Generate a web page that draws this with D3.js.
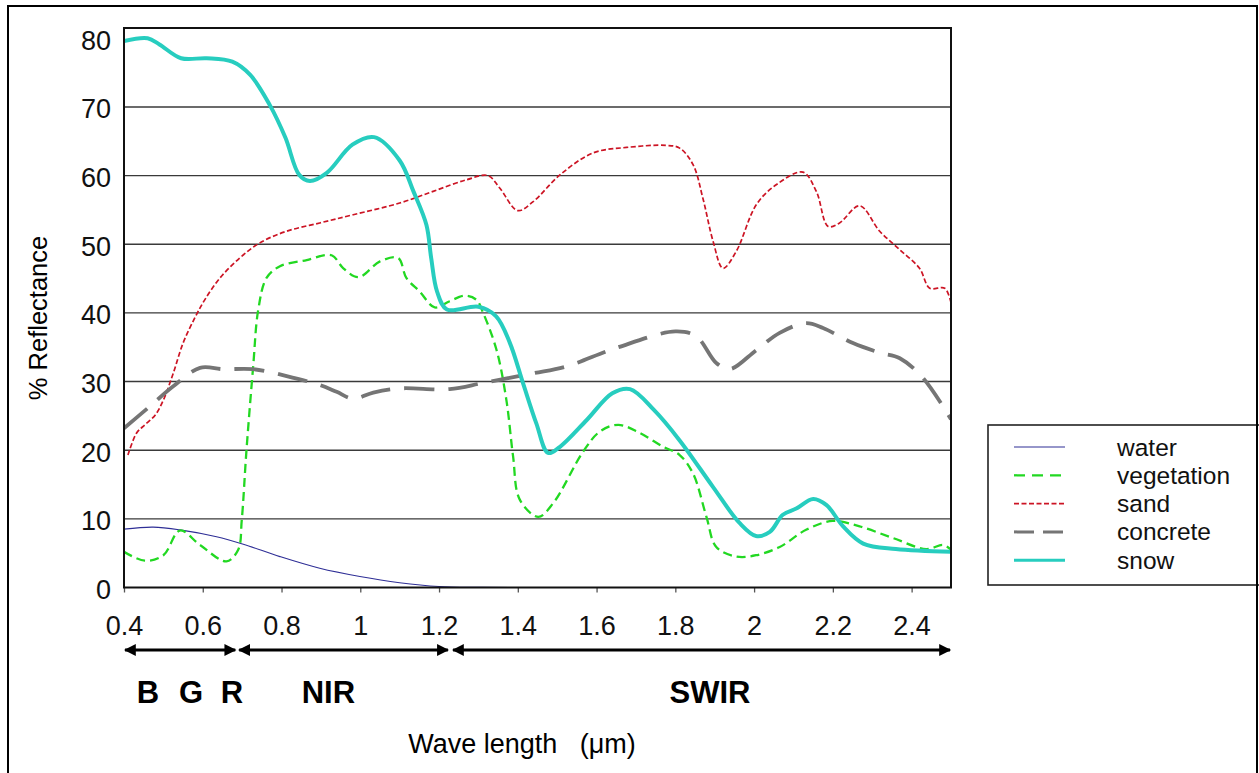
<!DOCTYPE html>
<html>
<head>
<meta charset="utf-8">
<script src="https://cdn.jsdelivr.net/npm/d3@7"></script>
<style>
  body { margin: 0; background: #fff; }
  svg { display: block; font-family: "Liberation Sans", Arial, sans-serif; }
</style>
</head>
<body>
<div id="chart"></div>
<script>
// wavelength (um) and % reflectance
var waterWl = [0.40, 0.474, 0.542, 0.635, 0.703, 0.796, 0.897, 0.999, 1.10, 1.20, 1.30, 1.50, 2.50];
var waterVal = [8.5, 8.8, 8.4, 7.4, 6.3, 4.5, 2.8, 1.6, 0.7, 0.15, 0.02, 0, 0];

var vegWl = [0.40, 0.453, 0.50, 0.542, 0.593, 0.66, 0.69, 0.699, 0.711, 0.728, 0.741, 0.762, 0.796, 0.864, 0.927, 0.957, 0.995, 1.05, 1.096, 1.117, 1.151, 1.189, 1.227, 1.265, 1.295, 1.312, 1.346, 1.371, 1.388, 1.405, 1.452, 1.49, 1.566, 1.608, 1.655, 1.71, 1.769, 1.811, 1.845, 1.879, 1.904, 1.955, 2.005, 2.065, 2.132, 2.20, 2.268, 2.353, 2.437, 2.48, 2.50];
var vegVal = [5.2, 3.9, 4.7, 8.3, 6.2, 3.8, 5.5, 9.8, 20.0, 32.2, 40.5, 45.1, 46.8, 47.7, 48.4, 46.5, 45.2, 47.5, 48.0, 45.1, 43.1, 40.8, 41.7, 42.5, 41.9, 40.0, 34.6, 27.3, 19.1, 12.8, 10.3, 12.3, 19.8, 22.7, 23.7, 22.5, 20.5, 19.3, 16.6, 10.3, 5.9, 4.5, 4.7, 5.9, 8.4, 9.7, 8.9, 7.2, 5.6, 6.2, 5.5];

var sandWl = [0.41, 0.432, 0.453, 0.479, 0.50, 0.525, 0.55, 0.58, 0.605, 0.644, 0.694, 0.745, 0.813, 0.897, 0.982, 1.10, 1.185, 1.27, 1.324, 1.354, 1.40, 1.439, 1.507, 1.591, 1.676, 1.777, 1.811, 1.845, 1.87, 1.896, 1.921, 1.955, 2.006, 2.057, 2.124, 2.158, 2.188, 2.217, 2.268, 2.319, 2.37, 2.42, 2.446, 2.484, 2.50];
var sandVal = [19.3, 22.5, 23.7, 25.1, 27.3, 31.2, 35.6, 39.3, 41.9, 45.1, 48.0, 50.2, 51.9, 53.1, 54.3, 56.0, 57.7, 59.4, 60.0, 58.2, 54.9, 56.2, 60.1, 63.3, 64.1, 64.4, 64.0, 61.6, 56.7, 50.4, 46.5, 49.0, 55.8, 58.7, 60.5, 57.7, 52.6, 53.1, 55.6, 51.9, 49.2, 46.5, 43.6, 43.6, 41.5];

var concWl = [0.40, 0.466, 0.525, 0.593, 0.652, 0.728, 0.813, 0.897, 0.94, 0.982, 1.033, 1.10, 1.227, 1.312, 1.439, 1.523, 1.65, 1.80, 1.853, 1.904, 1.938, 2.006, 2.065, 2.132, 2.175, 2.251, 2.319, 2.37, 2.429, 2.50];
var concVal = [23.2, 26.4, 29.3, 32.0, 31.8, 31.8, 30.8, 29.5, 28.5, 27.5, 28.4, 29.0, 28.9, 29.8, 31.2, 32.2, 34.9, 37.3, 36.6, 32.7, 31.8, 34.6, 37.1, 38.5, 37.8, 35.6, 34.2, 33.4, 30.5, 24.5];

var snowWl = [0.40, 0.46, 0.49, 0.545, 0.61, 0.675, 0.72, 0.77, 0.81, 0.845, 0.872, 0.915, 0.98, 1.035, 1.10, 1.135, 1.168, 1.18, 1.195, 1.22, 1.30, 1.345, 1.38, 1.413, 1.447, 1.477, 1.507, 1.575, 1.64, 1.685, 1.745, 1.81, 1.895, 1.963, 2.005, 2.04, 2.073, 2.107, 2.15, 2.184, 2.226, 2.277, 2.36, 2.50];
var snowVal = [79.6, 80.0, 79.1, 77.1, 77.1, 76.6, 74.7, 70.3, 65.5, 60.1, 59.2, 60.4, 64.5, 65.6, 62.2, 57.7, 52.8, 48.0, 43.1, 40.5, 40.9, 39.5, 35.6, 29.8, 23.9, 19.6, 20.5, 24.4, 28.3, 28.9, 25.9, 21.5, 14.7, 9.4, 7.5, 8.1, 10.6, 11.5, 12.9, 12.0, 8.9, 6.4, 5.6, 5.2];

var seriesNames = ["water", "vegetation", "sand", "concrete", "snow"];
var xTicks = [0.4, 0.6, 0.8, 1, 1.2, 1.4, 1.6, 1.8, 2, 2.2, 2.4];
var yTicks = [0, 10, 20, 30, 40, 50, 60, 70, 80];

// spectral bands under the axis
var bandFrom = [0.4, 0.69, 1.233];
var bandTo = [0.685, 1.225, 2.5];
var bandLabels = ["B", "G", "R", "NIR", "SWIR"];
var bandLabelWl = [0.461, 0.570, 0.674, 0.919, 1.888];

var W = 1259, H = 773;
var plot = {left: 124, right: 951, top: 28, bottom: 587.5};

var svg = d3.select("#chart").append("svg")
    .attr("width", W)
    .attr("height", H);

svg.append("rect").attr("width", W).attr("height", H).attr("fill", "#fff");

var x = d3.scaleLinear().domain([0.4, 2.5]).range([plot.left, plot.right]);
var y = d3.scaleLinear().domain([0, 81.5]).range([plot.bottom, plot.top]);

var styles = {
  water:      {color: "#2e2e96", width: 1.1, dash: null,    legendDash: null},
  vegetation: {color: "#22d822", width: 2.3, dash: "9,5",   legendDash: "11,7"},
  sand:       {color: "#cc1424", width: 1.7, dash: "5,2.5", legendDash: "5,2.5"},
  concrete:   {color: "#757575", width: 3.8, dash: "30,14", legendDash: "20,9"},
  snow:       {color: "#27cdbf", width: 4,   dash: null,    legendDash: null}
};

var seriesData = {
  water: d3.zip(waterWl, waterVal),
  vegetation: d3.zip(vegWl, vegVal),
  sand: d3.zip(sandWl, sandVal),
  concrete: d3.zip(concWl, concVal),
  snow: d3.zip(snowWl, snowVal)
};

// outer frame
svg.append("rect")
    .attr("x", 8).attr("y", 6)
    .attr("width", 1249).attr("height", 820)
    .attr("fill", "none").attr("stroke", "#000").attr("stroke-width", 2);

// gridlines
svg.append("g")
  .selectAll("line")
    .data(yTicks.filter(function(d) { return d > 0 && d < 80; }))
  .enter().append("line")
    .attr("x1", plot.left).attr("x2", plot.right)
    .attr("y1", function(d) { return y(d); })
    .attr("y2", function(d) { return y(d); })
    .attr("stroke", "#3a3a3a")
    .attr("stroke-width", 1.4);

// axes
var yAxis = svg.append("g")
    .attr("transform", "translate(" + plot.left + ",0)")
    .call(d3.axisLeft(y).tickValues(yTicks).tickSize(0).tickPadding(13));
yAxis.select(".domain").remove();
yAxis.selectAll("text")
    .attr("font-size", 27).attr("fill", "#111")
    .attr("font-family", "Liberation Sans, Arial, sans-serif")
    .attr("dy", "0.4em");

var xAxis = svg.append("g")
    .attr("transform", "translate(0," + plot.bottom + ")")
    .call(d3.axisBottom(x).tickValues(xTicks).tickSize(5).tickPadding(23)
      .tickFormat(function(d) { return String(d); }));
xAxis.select(".domain").remove();
xAxis.selectAll("line").attr("stroke", "#555").attr("stroke-width", 1.3);
xAxis.selectAll("text")
    .attr("font-size", 27).attr("fill", "#111")
    .attr("font-family", "Liberation Sans, Arial, sans-serif");

// clip
svg.append("clipPath").attr("id", "plotClip")
  .append("rect")
    .attr("x", plot.left).attr("y", plot.top)
    .attr("width", plot.right - plot.left)
    .attr("height", plot.bottom - plot.top);

var line = d3.line()
    .x(function(d) { return x(d[0]); })
    .y(function(d) { return y(d[1]); })
    .curve(d3.curveCatmullRom.alpha(0.5));

var lines = svg.append("g").attr("clip-path", "url(#plotClip)");
seriesNames.forEach(function(name) {
  var s = styles[name];
  lines.append("path")
      .datum(seriesData[name])
      .attr("d", line)
      .attr("fill", "none")
      .attr("stroke", s.color)
      .attr("stroke-width", s.width)
      .attr("stroke-dasharray", s.dash)
      .attr("stroke-linejoin", "round");
});

// plot frame
svg.append("rect")
    .attr("x", plot.left).attr("y", plot.top)
    .attr("width", plot.right - plot.left)
    .attr("height", plot.bottom - plot.top)
    .attr("fill", "none").attr("stroke", "#111").attr("stroke-width", 2);

// band arrows
var defs = svg.append("defs");
defs.append("marker")
    .attr("id", "arrow")
    .attr("viewBox", "0 0 10 10")
    .attr("refX", 9).attr("refY", 5)
    .attr("markerWidth", 4.2).attr("markerHeight", 4)
    .attr("markerUnits", "strokeWidth")
    .attr("orient", "auto-start-reverse")
  .append("path")
    .attr("d", "M0,0L10,5L0,10z")
    .attr("fill", "#000");

var arrowY = 650;
svg.append("g")
  .selectAll("line")
    .data(d3.zip(bandFrom, bandTo))
  .enter().append("line")
    .attr("x1", function(d) { return x(d[0]) + 1; })
    .attr("x2", function(d) { return x(d[1]) - 1; })
    .attr("y1", arrowY).attr("y2", arrowY)
    .attr("stroke", "#000").attr("stroke-width", 3)
    .attr("marker-start", "url(#arrow)")
    .attr("marker-end", "url(#arrow)");

svg.append("g")
  .selectAll("text")
    .data(d3.zip(bandLabels, bandLabelWl))
  .enter().append("text")
    .attr("x", function(d) { return x(d[1]); })
    .attr("y", 703)
    .attr("text-anchor", "middle")
    .attr("font-size", 31)
    .attr("font-weight", "bold")
    .text(function(d) { return d[0]; });

// axis titles
svg.append("text")
    .attr("transform", "translate(47,318) rotate(-90)")
    .attr("text-anchor", "middle")
    .attr("font-size", 25.5)
    .text("% Reflectance");

svg.append("text")
    .attr("x", 522).attr("y", 753)
    .attr("text-anchor", "middle")
    .attr("font-size", 27)
    .attr("xml:space", "preserve")
    .text("Wave length   (\u03bcm)");

// legend
var legend = svg.append("g");
legend.append("rect")
    .attr("x", 988).attr("y", 425)
    .attr("width", 280).attr("height", 160)
    .attr("fill", "#fff").attr("stroke", "#222").attr("stroke-width", 1.6);

var item = legend.selectAll(".item")
    .data(seriesNames)
  .enter().append("g")
    .attr("transform", function(d, i) { return "translate(0," + (447 + i * 28.3) + ")"; });

item.append("line")
    .attr("x1", 1014).attr("x2", 1065)
    .attr("stroke", function(d) { return styles[d].color; })
    .attr("stroke-width", function(d) { return Math.min(styles[d].width, 3); })
    .attr("stroke-dasharray", function(d) { return styles[d].legendDash; });

item.append("text")
    .attr("x", 1117)
    .attr("dy", "0.35em")
    .attr("font-size", 24.5)
    .attr("fill", "#111")
    .text(function(d) { return d; });

// redraw right edge of outer frame over the legend
svg.append("line")
    .attr("x1", 1257).attr("x2", 1257).attr("y1", 6).attr("y2", H)
    .attr("stroke", "#000").attr("stroke-width", 2);
</script>
</body>
</html>
